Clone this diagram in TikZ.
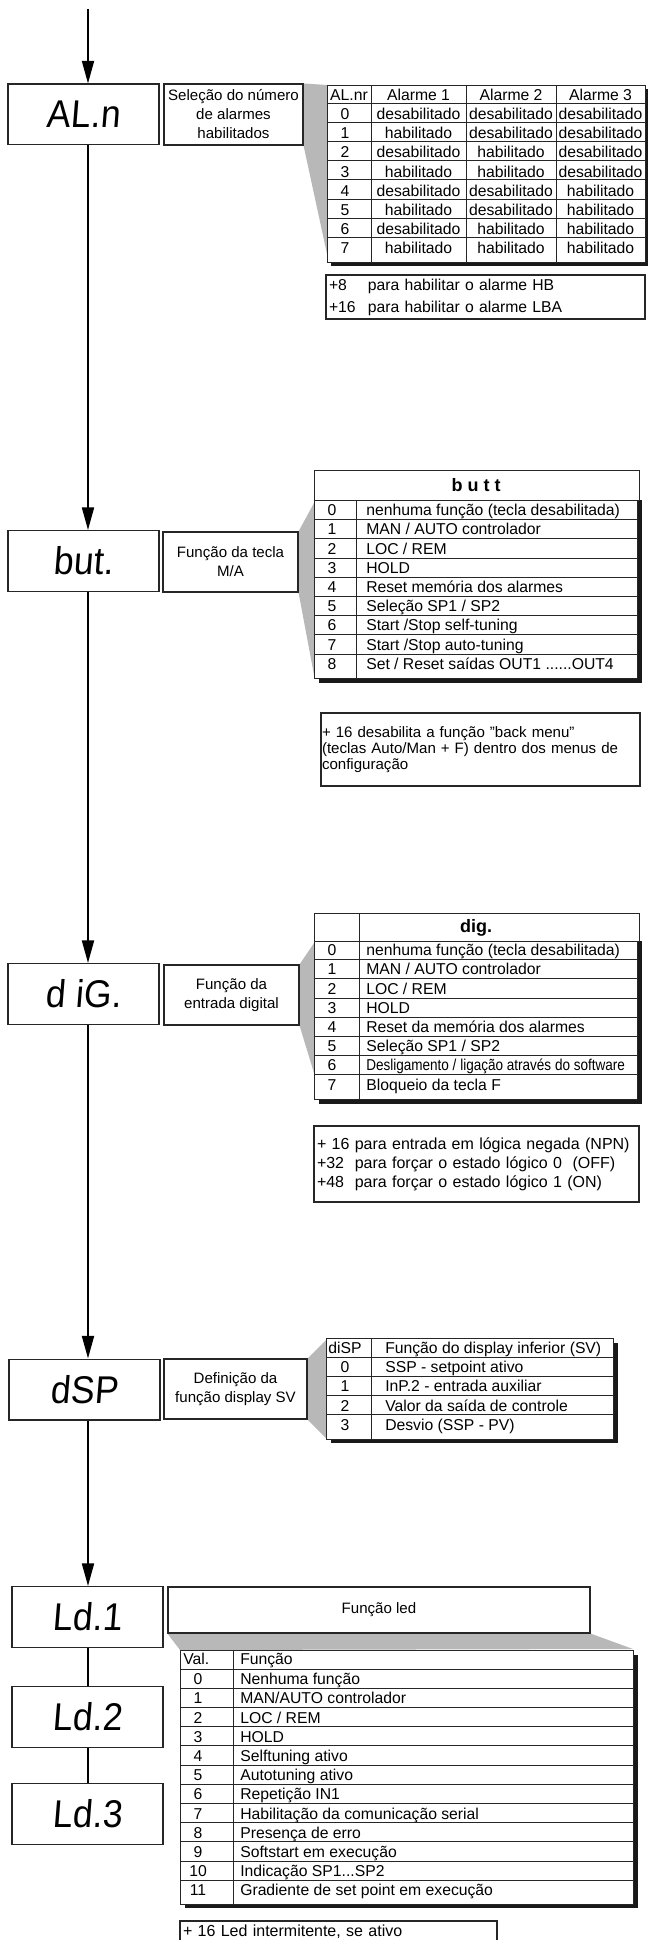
\documentclass[tikz,border=0pt]{standalone}
\usepackage{graphicx}
\usepackage{fontspec}
\setmainfont{Liberation Sans}
\newfontfamily\visorfont{Liberation Sans}[FakeSlant=0.08,FakeStretch=0.92]
\usetikzlibrary{arrows.meta}
\pgfdeclarelayer{fundo}
\pgfsetlayers{fundo,main}
\definecolor{funil}{gray}{0.72}
\definecolor{traco}{gray}{0.15}
\newcommand{\saidas}{Set / Reset saídas OUT1 ......OUT4}
\newcommand{\indsp}{Indicação SP1...SP2}
\tikzset{
  visor/.style={draw=traco, line width=1pt, fill=white, minimum width=113.25pt,
    minimum height=45.5pt, inner sep=0pt, font=\fontsize{29}{29}\visorfont},
  rotulo/.style={draw=traco, line width=0.8pt, fill=white, align=center, inner sep=0pt,
    font=\fontsize{11.3}{14.25}\selectfont},
  nota/.style={draw=traco, line width=0.8pt, fill=white, align=left, inner ysep=0pt},
  grade/.style={draw=traco, line width=0.7pt},
  sombra/.style={fill=black!90},
  cel/.style={inner sep=0pt, text height=8.4pt, text depth=0pt, font=\fontsize{11.8}{14}\selectfont},
  cab/.style={inner sep=0pt, font=\fontsize{13.5}{15}\selectfont\bfseries},
  fluxo/.style={line width=1.5pt, -{Triangle[length=17pt,width=9pt]}},
  liga/.style={line width=1.5pt}
}

\begin{document}
\begin{tikzpicture}[x=0.75pt,y=-0.75pt]
\useasboundingbox (0,0) rectangle (647,1940);

% visores
\coordinate (inicio) at (88,9);
\node[visor] (aln) at (83.5,114.5) {AL.n};
\node[visor] (but) at (83.5,561) {but.};
\node[visor] (dig) at (83.5,994) {d iG.};
\node[visor] (dsp) at (84.5,1389.5) {dSP};
\node[visor] (ld1) at (87.5,1617) {Ld.1};
\node[visor] (ld2) at (87.5,1717) {Ld.2};
\node[visor] (ld3) at (87.5,1814) {Ld.3};

\draw[fluxo] (inicio) -- (aln.north -| inicio);
\draw[fluxo] (aln.south -| inicio) -- (but.north -| inicio);
\draw[fluxo] (but.south -| inicio) -- (dig.north -| inicio);
\draw[fluxo] (dig.south -| inicio) -- (dsp.north -| inicio);
\draw[fluxo] (dsp.south -| inicio) -- (ld1.north -| inicio);
\draw[liga] (ld1.south -| inicio) -- (ld2.north -| inicio);
\draw[liga] (ld2.south -| inicio) -- (ld3.north -| inicio);

% rotulos
\node[rotulo, minimum width=104.25pt, minimum height=45.75pt] (alnrot) at (233.5,114.5) {Seleção do número\\de alarmes\\habilitados};
\node[rotulo, minimum width=101.25pt, minimum height=45pt] (butrot) at (230.5,562) {Função da tecla\\M/A};
\node[rotulo, minimum width=101.25pt, minimum height=45pt] (digrot) at (231.5,995) {Função da\\entrada digital};
\node[rotulo, minimum width=107.25pt, minimum height=45pt] (dsprot) at (235.5,1389) {Definição da\\função display SV};
\node[rotulo, minimum width=316.5pt, minimum height=34.5pt] (ledrot) at (379,1610) {Função led};

% funis
\begin{pgfonlayer}{fundo}
\fill[funil] (alnrot.north east) -- (327,85) -- (327,254) -- (alnrot.south east) -- cycle;
\fill[funil] (butrot.north east) -- (314,503) -- (314,675) -- (butrot.south east) -- cycle;
\fill[funil] (digrot.north east) -- (314,943) -- (314,1073) -- (digrot.south east) -- cycle;
\fill[funil] (dsprot.north east) -- (326,1340) -- (326,1438) -- (dsprot.south east) -- cycle;
\fill[funil] (ledrot.south west) -- (ledrot.south east) -- (633,1649) -- (180,1650) -- cycle;
\end{pgfonlayer}

% tabela AL.nr
\fill[sombra] (331,89) rectangle (649,266);
\draw[grade, fill=white] (327,85) rectangle (645,262);
\foreach \x in {371,466,556} \draw[grade] (\x,85) -- (\x,262);
\foreach \n in {0,...,7} \draw[grade] (327,{103+19.2*\n}) -- (645,{103+19.2*\n});
\node[cel] (alnr) at (349,95) {AL.nr};
\node[cel] (ala1) at (418.5,95) {Alarme 1};
\node[cel] (ala2) at (511,95) {Alarme 2};
\node[cel] (ala3) at (600.5,95) {Alarme 3};
\foreach \ca/\cb/\cc [count=\n from 0] in {desabilitado/desabilitado/desabilitado,
  habilitado/desabilitado/desabilitado, desabilitado/habilitado/desabilitado,
  habilitado/habilitado/desabilitado, desabilitado/desabilitado/habilitado,
  habilitado/desabilitado/habilitado, desabilitado/habilitado/habilitado,
  habilitado/habilitado/habilitado}{
  \node[cel] (alv\n) at (345,{114+19.2*\n}) {\n};
  \node[cel] (alx\n) at (418.5,{114+19.2*\n}) {\ca};
  \node[cel] (aly\n) at (511,{114+19.2*\n}) {\cb};
  \node[cel] (alz\n) at (600.5,{114+19.2*\n}) {\cc};
}
\node[nota, text width=234.75pt, inner xsep=2.25pt, minimum height=33pt,
  font=\fontsize{11.8}{16.5}\selectfont] (alnnota) at (485.5,297)
  {\makebox[29.25pt][l]{+8}para habilitar o alarme HB\\\makebox[29.25pt][l]{+16}para habilitar o alarme LBA};

% tabela butt
\fill[sombra] (319,500) rectangle (642,683);
\draw[grade, fill=white] (314,500) rectangle (637,678);
\draw[grade, fill=white] (314,470) rectangle (639,500);
\node[cab] (butcab) at (476,485) {b u t t};
\draw[grade] (356,500) -- (356,678);
\foreach \n in {0,...,7} \draw[grade] (314,{519.6+19.2*\n}) -- (637,{519.6+19.2*\n});
\foreach \txt [count=\n from 0] in {{nenhuma função (tecla desabilitada)}, {MAN / AUTO controlador},
  {LOC / REM}, {HOLD}, {Reset memória dos alarmes}, {Seleção SP1 / SP2},
  {Start /Stop self-tuning}, {Start /Stop auto-tuning}, {\saidas}}{
  \node[cel] (butv\n) at (332,{510+19.2*\n}) {\n};
  \node[cel, anchor=west] (butt\n) at (366,{510+19.2*\n}) {\txt};
}
\node[nota, text width=237.75pt, inner xsep=0.75pt, minimum height=54.75pt,
  font=\fontsize{11.3}{11.75}\selectfont] (butnota) at (480.5,749.5)
  {+ 16 desabilita a função "back menu"\\(teclas Auto/Man + F) dentro dos menus de\\configuração};

% tabela dig.
\fill[sombra] (319,941) rectangle (642,1104);
\draw[grade, fill=white] (314,941) rectangle (637,1099);
\draw[grade, fill=white] (314,913) rectangle (639,941);
\draw[grade] (359,913) -- (359,1099);
\node[cab] (digcab) at (476,928) {dig.};
\foreach \n in {0,...,6} \draw[grade] (314,{959.6+19.2*\n}) -- (637,{959.6+19.2*\n});
\foreach \txt [count=\n from 0] in {{nenhuma função (tecla desabilitada)}, {MAN / AUTO controlador},
  {LOC / REM}, {HOLD}, {Reset da memória dos alarmes}, {Seleção SP1 / SP2},
  {\scalebox{0.86}[1]{Desligamento / ligação através do software}}, {Bloqueio da tecla F}}{
  \node[cel] (digv\n) at (332,{950+19.2*\n}) {\n};
  \node[cel, anchor=west] (digt\n) at (366,{950+19.2*\n}) {\txt};
}
\node[nota, text width=239.25pt, inner xsep=2.25pt, minimum height=57pt,
  font=\fontsize{12}{14.25}\selectfont] (dignota) at (476.5,1164)
  {+ 16 para entrada em lógica negada (NPN)\\+32\ \ para forçar o estado lógico 0\ \ (OFF)\\+48\ \ para forçar o estado lógico 1 (ON)};

% tabela diSP
\fill[sombra] (331,1343) rectangle (618,1443);
\draw[grade, fill=white] (326,1338) rectangle (613,1439);
\draw[grade] (371,1338) -- (371,1439);
\foreach \n in {0,...,3} \draw[grade] (326,{1357+19.2*\n}) -- (613,{1357+19.2*\n});
\node[cel] (dspcab) at (345,1348) {diSP};
\node[cel, anchor=west] (dspfun) at (385,1348) {Função do display inferior (SV)};
\foreach \txt [count=\n from 0] in {{SSP - setpoint ativo}, {InP.2 - entrada auxiliar},
  {Valor da saída de controle}, {Desvio (SSP - PV)}}{
  \node[cel] (dspv\n) at (345,{1367+19.2*\n}) {\n};
  \node[cel, anchor=west] (dspt\n) at (385,{1367+19.2*\n}) {\txt};
}

% tabela led
\fill[sombra] (185,1655) rectangle (638,1908);
\draw[grade, fill=white] (180,1650) rectangle (633,1904);
\draw[grade] (233,1650) -- (233,1904);
\foreach \n in {0,...,11} \draw[grade] (180,{1669+19.2*\n}) -- (633,{1669+19.2*\n});
\node[cel, anchor=west] (ledval) at (183,1659) {Val.};
\node[cel, anchor=west] (ledfun) at (240,1659) {Função};
\foreach \txt [count=\n from 0] in {{Nenhuma função}, {MAN/AUTO controlador}, {LOC / REM},
  {HOLD}, {Selftuning ativo}, {Autotuning ativo}, {Repetição IN1},
  {Habilitação da comunicação serial}, {Presença de erro}, {Softstart em execução},
  {\indsp}, {Gradiente de set point em execução}}{
  \node[cel] (ledv\n) at (198,{1679+19.2*\n}) {\n};
  \node[cel, anchor=west] (ledt\n) at (240,{1679+19.2*\n}) {\txt};
}
\node[nota, text width=233.25pt, inner xsep=2.25pt, minimum height=16.5pt,
  font=\fontsize{12}{14.25}\selectfont] (lednota) at (338.5,1932)
  {+ 16 Led intermitente, se ativo};
\end{tikzpicture}
\end{document}
